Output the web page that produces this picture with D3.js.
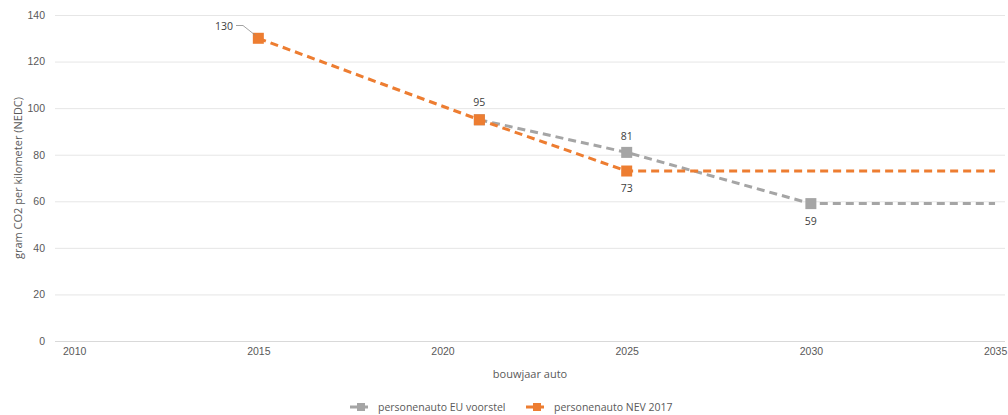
<!DOCTYPE html>
<html>
<head>
<meta charset="utf-8">
<script src="https://cdn.jsdelivr.net/npm/d3@7"></script>
<style>
  body { margin: 0; background: #fff; }
  svg { font-family: "Open Sans", "Noto Sans", sans-serif; }
  .tick text { fill: #595959; font-size: 10.5px; }
  .lbl { fill: #404040; font-size: 10.5px; }
</style>
</head>
<body>
<svg id="chart" width="1008" height="415"></svg>
<script>
// series data
const euYears = [2021, 2025, 2030, 2035];
const euValues = [95, 81, 59, 59];
const nevYears = [2015, 2021, 2025, 2035];
const nevValues = [130, 95, 73, 73];
const xTicks = [2010, 2015, 2020, 2025, 2030, 2035];
const yTicks = [0, 20, 40, 60, 80, 100, 120, 140];
const seriesNames = ['personenauto EU voorstel', 'personenauto NEV 2017'];
const colors = ['#a5a5a5', '#ed7d31'];

const svg = d3.select('#chart');
const plotLeft = 55, plotRight = 1005, plotTop = 15, plotBottom = 341;

const x = d3.scaleLinear().domain([2009.48, 2035.27]).range([plotLeft, plotRight]);
const y = d3.scaleLinear().domain([0, 140]).range([plotBottom, plotTop]);

// gridlines
svg.append('g').selectAll('line').data(yTicks).enter().append('line')
  .attr('x1', plotLeft).attr('x2', plotRight)
  .attr('y1', d => y(d) + 0.5).attr('y2', d => y(d) + 0.5)
  .attr('stroke', d => d === 0 ? '#d9d9d9' : '#e6e6e6')
  .attr('stroke-width', 1);

// y axis labels
const yAxis = svg.append('g').attr('transform', `translate(${plotLeft - 10},0)`)
  .call(d3.axisLeft(y).tickValues(yTicks).tickSize(0).tickPadding(0));
yAxis.select('.domain').remove();

// x axis labels
const xAxis = svg.append('g').attr('transform', `translate(0,${plotBottom + 7})`)
  .call(d3.axisBottom(x).tickValues(xTicks).tickFormat(d3.format('d')).tickSize(0).tickPadding(0));
xAxis.select('.domain').remove();
xAxis.selectAll('text').attr('dy', '0.71em');

// axis titles
svg.append('text').attr('class', 'lbl')
  .attr('transform', `translate(22,${(plotTop + plotBottom) / 2}) rotate(-90)`)
  .attr('text-anchor', 'middle').style('fill', '#595959').style('font-size', '11px')
  .text('gram CO2 per kilometer (NEDC)');
svg.append('text').attr('class', 'lbl')
  .attr('x', 530).attr('y', 378).attr('text-anchor', 'middle').style('fill', '#595959')
  .style('font-size', '11px')
  .text('bouwjaar auto');

const line = d3.line().x(d => x(d[0])).y(d => y(d[1]));
const series = [
  { pts: d3.zip(euYears, euValues), color: colors[0] },
  { pts: d3.zip(nevYears, nevValues), color: colors[1] }
];

series.forEach(s => {
  svg.append('path').datum(s.pts)
    .attr('d', line)
    .attr('fill', 'none')
    .attr('stroke', s.color)
    .attr('stroke-width', 3)
    .attr('stroke-dasharray', '8,5');
  // markers on all but the last (2035) point
  svg.append('g').selectAll('rect').data(s.pts.slice(0, -1)).enter().append('rect')
    .attr('x', d => x(d[0]) - 5.5).attr('y', d => y(d[1]) - 5.5)
    .attr('width', 11).attr('height', 11)
    .attr('fill', s.color);
});

// data labels
const labels = [
  { yr: 2021, v: 95, dy: -14 },
  { yr: 2025, v: 81, dy: -12 },
  { yr: 2025, v: 73, dy: 21 },
  { yr: 2030, v: 59, dy: 21 }
];
svg.append('g').selectAll('text').data(labels).enter().append('text')
  .attr('class', 'lbl')
  .attr('x', d => x(d.yr)).attr('y', d => y(d.v) + d.dy)
  .attr('text-anchor', 'middle')
  .text(d => d.v);

// 130 label with leader line
svg.append('text').attr('class', 'lbl')
  .attr('x', 233).attr('y', 30).attr('text-anchor', 'end').text(nevValues[0]);
svg.append('polyline')
  .attr('points', `236,25.5 243,25.5 ${x(2015) - 3},${y(130) - 3}`)
  .attr('fill', 'none').attr('stroke', '#8c8c8c').attr('stroke-width', 0.8);

// legend
const legend = [
  { name: seriesNames[0], color: colors[0], x: 350 },
  { name: seriesNames[1], color: colors[1], x: 526 }
];
const lg = svg.append('g').selectAll('g').data(legend).enter().append('g')
  .attr('transform', d => `translate(${d.x},407)`);
lg.append('line').attr('x1', 0).attr('x2', 22).attr('y1', 0).attr('y2', 0)
  .attr('stroke', d => d.color).attr('stroke-width', 3).attr('stroke-dasharray', '7,4');
lg.append('rect').attr('x', 7).attr('y', -4).attr('width', 8).attr('height', 8)
  .attr('fill', d => d.color);
lg.append('text').attr('class', 'lbl').attr('x', 28).attr('y', 3.5)
  .style('font-size', '10.5px').style('fill', '#595959')
  .text(d => d.name);
</script>
</body>
</html>
